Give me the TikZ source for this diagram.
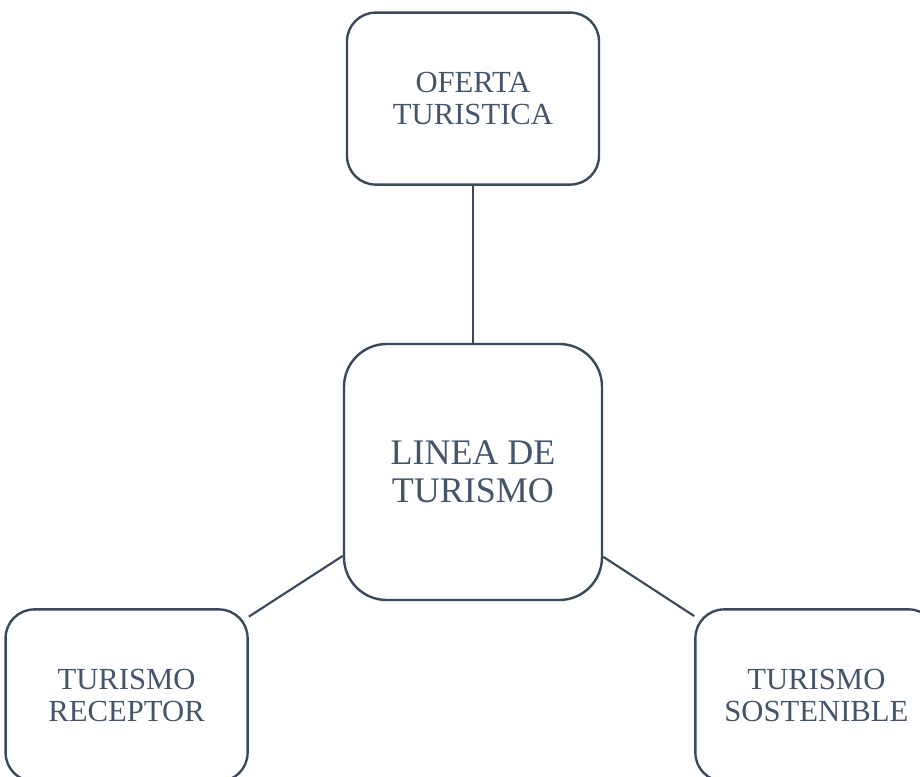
\documentclass[tikz,border=0pt]{standalone}
\usepackage{fontspec}
\setmainfont{Liberation Serif}
\usetikzlibrary{positioning}
\definecolor{slate}{HTML}{44546A}
\definecolor{slateline}{HTML}{3A485C}

\begin{document}
\begin{tikzpicture}[
		box/.style={draw=slateline, line width=1.8pt, rectangle, rounded corners=21.5pt, align=center, text=slate, inner sep=0pt, minimum width=181.5pt, minimum height=129pt, font=\fontsize{23}{24}\selectfont},
		link/.style={draw=slateline, line width=1.6pt}]
			\useasboundingbox (-354.75pt,-228pt) rectangle (335.25pt,354pt);
			\node (linea) [box, minimum width=193.5pt, minimum height=192pt, rounded corners=32pt, font=\fontsize{27}{28.5}\selectfont] {LINEA DE\\TURISMO};
			\node (oferta) [box, minimum width=189pt, above=117.75pt of linea] {OFERTA\\TURISTICA};
			\node (receptor) [box, below left=5.25pt and 70.5pt of linea] {TURISMO\\RECEPTOR};
			\node (sostenible) [box, below right=5.25pt and 68.25pt of linea] {TURISMO\\SOSTENIBLE};
			\draw [link] (oferta) -- (linea);
			\draw [link] (linea) -- (receptor);
			\draw [link] (linea) -- (sostenible);
		\end{tikzpicture}
\end{document}
